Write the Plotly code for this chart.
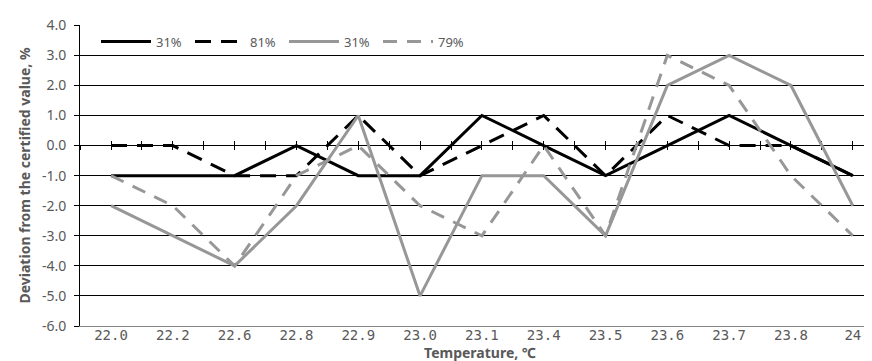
import plotly.graph_objects as go

categories = ["22.0", "22.2", "22.6", "22.8", "22.9", "23.0", "23.1",
              "23.4", "23.5", "23.6", "23.7", "23.8", "24"]
black_solid_31 = [-1, -1, -1, 0, -1, -1, 1, 0, -1, 0, 1, 0, -1]
black_dash_81 = [0, 0, -1, -1, 1, -1, 0, 1, -1, 1, 0, 0, -1]
gray_solid_31 = [-2, -3, -4, -2, 1, -5, -1, -1, -3, 2, 3, 2, -2]
gray_dash_79 = [-1, -2, -4, -1, 0, -2, -3, 0, -3, 3, 2, -1, -3]
y_tick_vals = [-6, -5, -4, -3, -2, -1, 0, 1, 2, 3, 4]
y_tick_text = ["-6.0", "-5.0", "-4.0", "-3.0", "-2.0", "-1.0", "0.0",
               "1.0", "2.0", "3.0", "4.0"]

idx = list(range(len(categories)))
GRAY = "#979797"
TXT = "#595959"

fig = go.Figure()
series = [
    ("31%", black_solid_31, "#000000", "solid"),
    ("81%", black_dash_81, "#000000", "16px,10px"),
    ("31%", gray_solid_31, GRAY, "solid"),
    ("79%", gray_dash_79, GRAY, "14px,10px"),
]
for name, vals, col, dash in series:
    fig.add_trace(go.Scatter(x=idx, y=vals, mode="lines", name=name,
                             line=dict(color=col, width=3, dash=dash)))

# empty traces to establish the overlay axes at y=0
fig.add_trace(go.Scatter(x=[], y=[], xaxis="x2", showlegend=False))
fig.add_trace(go.Scatter(x=[], y=[], xaxis="x3", showlegend=False))

xr = [-0.5016, 12.44]
fig.update_layout(
    width=872, height=361,
    margin=dict(l=72, r=0, t=17, b=43),
    plot_bgcolor="white", paper_bgcolor="white",
    showlegend=True,
    legend=dict(orientation="h", x=0.02, y=0.995, xanchor="left", yanchor="top",
                font=dict(family="Noto Sans", size=13, color=TXT),
                bgcolor="rgba(255,255,255,0)", itemwidth=50,
                entrywidth=29, entrywidthmode="pixels",
                tracegroupgap=0),
    xaxis=dict(range=xr, tickmode="array", tickvals=idx, ticktext=categories,
               showgrid=False, zeroline=False, showline=True,
               linecolor="#868686", linewidth=1, ticks="",
               ticklabelstandoff=-4,
               tickfont=dict(family="DejaVu Sans Mono", size=14, color=TXT),
               title=dict(text="Temperature, \u2103", standoff=0,
                          font=dict(family="Noto Sans", size=14, color=TXT,
                                    weight="bold"))),
    xaxis2=dict(range=xr, overlaying="x", anchor="free", position=0.6,
                tickmode="linear", tick0=0, dtick=0.5, ticks="outside",
                ticklen=4, tickcolor="#000000", tickwidth=1,
                showticklabels=False, layer="below traces",
                showgrid=False, zeroline=False, showline=True,
                linecolor="#000000", linewidth=1),
    xaxis3=dict(range=xr, overlaying="x", anchor="free", position=0.6,
                tickmode="linear", tick0=0, dtick=0.5, ticks="inside",
                ticklen=4, tickcolor="#000000", tickwidth=1,
                showticklabels=False, layer="below traces",
                showgrid=False, zeroline=False, showline=False),
    yaxis=dict(range=[-6, 4.01], tickmode="array", tickvals=y_tick_vals,
               ticktext=y_tick_text, showgrid=True, gridcolor="#000000",
               gridwidth=1, zeroline=False, showline=True,
               linecolor="#000000", linewidth=1, ticks="outside",
               ticklen=5, tickcolor="#000000", ticklabelstandoff=5,
               tickfont=dict(family="Noto Sans", size=14, color=TXT),
               title=dict(text="Deviation from the certified value, %",
                          standoff=8,
                          font=dict(family="Noto Sans", size=14, color=TXT,
                                    weight="bold"))),
)

fig.write_html("out.html")
